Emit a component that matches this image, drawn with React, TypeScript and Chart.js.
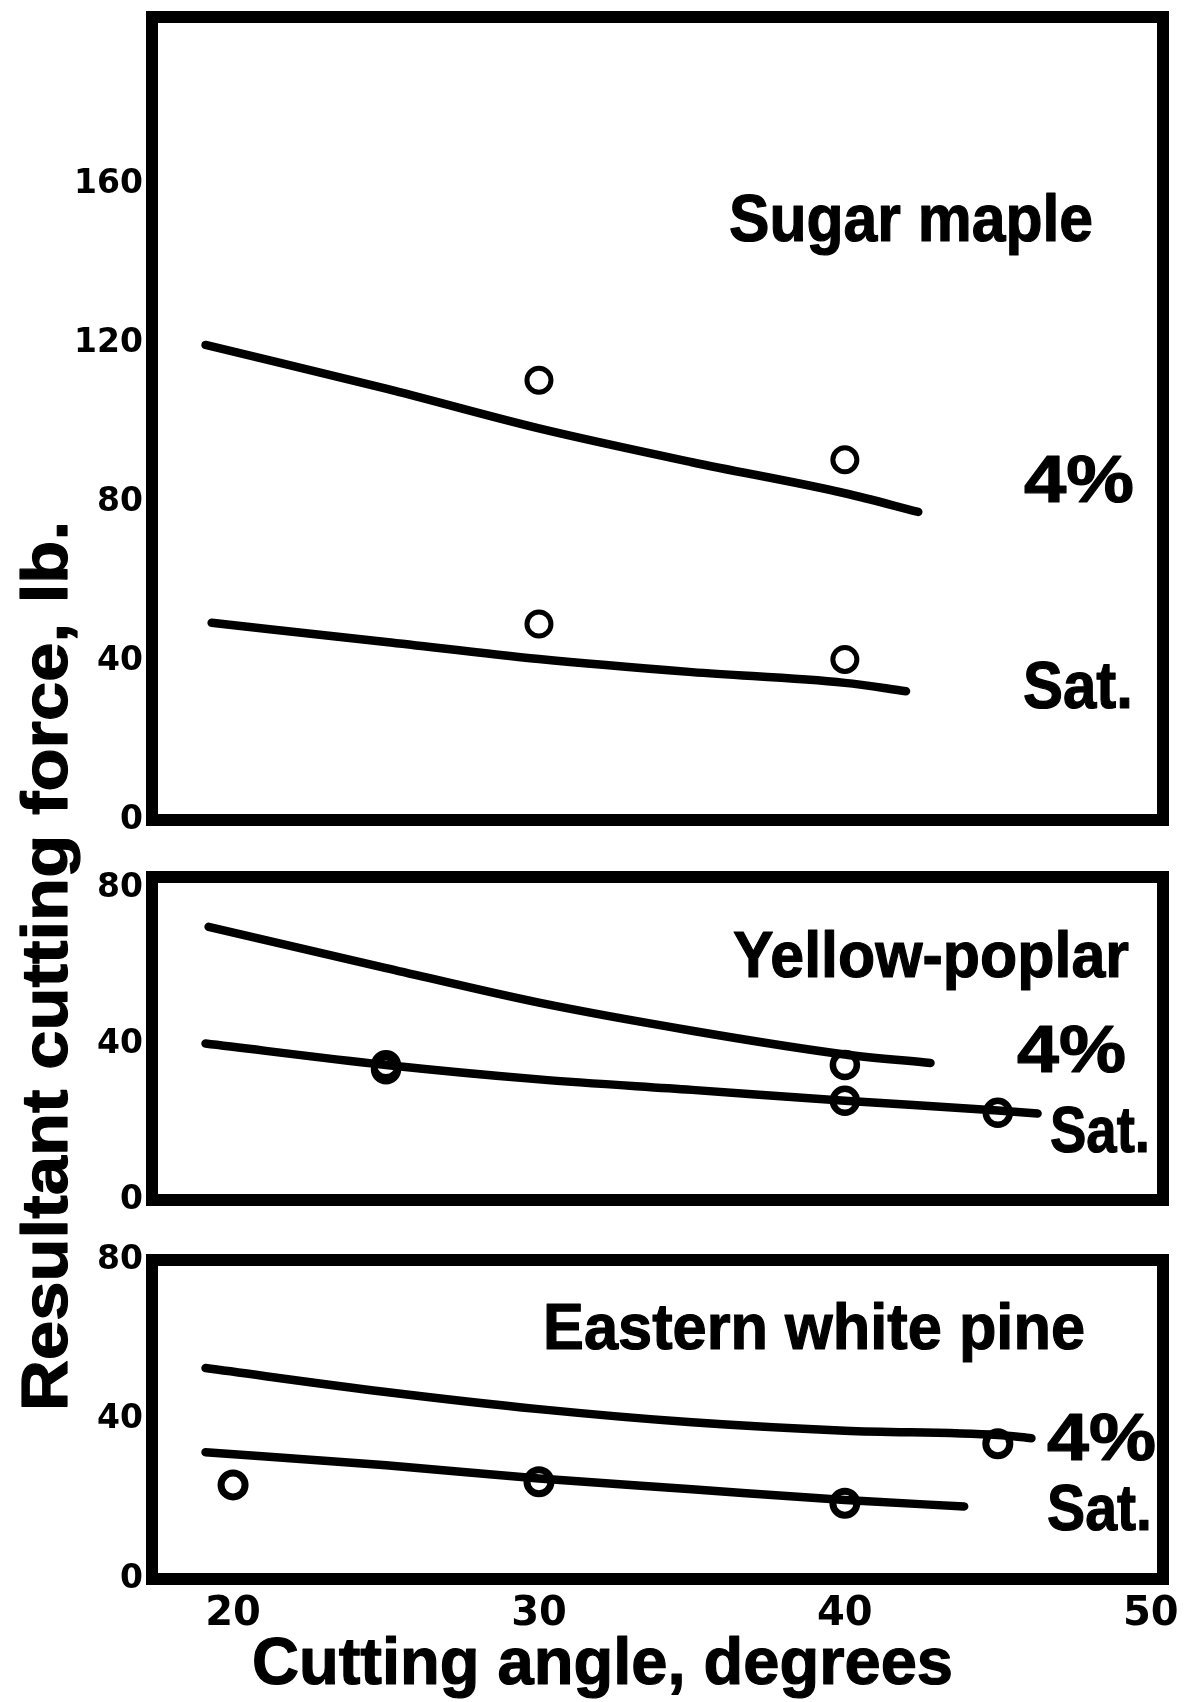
import React, { useEffect, useRef } from 'react';
import { Chart, registerables } from 'chart.js';

Chart.register(...registerables);

const PAGE_W = 1185;
const PAGE_H = 1702;

// ---- shared x axis (cutting angle, degrees) ----
const angleTicks = [20, 30, 40, 50];
const angleMin = 17.35;
const angleMax = 50.4;

// ---- Sugar maple ----
const mapleForceTicks = [0, 40, 80, 120, 160];
const maple4CurveX = [19.1, 25, 30, 35, 40, 42.4];
const maple4CurveY = [119.5, 108.5, 98.5, 90, 82.2, 77.5];
const maple4PointX = [30, 40];
const maple4PointY = [110.6, 90.6];
const mapleSatCurveX = [19.3, 25, 30, 35, 40, 42];
const mapleSatCurveY = [49.6, 44.8, 40.5, 37.2, 34.5, 32.4];
const mapleSatPointX = [30, 40];
const mapleSatPointY = [49.3, 40.4];

// ---- Yellow-poplar ----
const poplarForceTicks = [0, 40, 80];
const poplar4CurveX = [19.2, 25, 30, 35, 40, 42.8];
const poplar4CurveY = [70.2, 59.6, 50.7, 43.5, 37.4, 35.2];
const poplar4PointX = [40];
const poplar4PointY = [34.7];
const poplarSatCurveX = [19.1, 25, 30, 35, 40, 45, 46.3];
const poplarSatCurveY = [40.2, 34.7, 31.0, 28.3, 25.5, 23.0, 22.2];
const poplarSatPointX = [25, 25, 40, 45];
const poplarSatPointY = [34.6, 33.6, 25.5, 22.4];

// ---- Eastern white pine ----
const pineForceTicks = [0, 40, 80];
const pine4CurveX = [19.1, 25, 30, 35, 40, 45, 46.1];
const pine4CurveY = [52.9, 46.9, 42.6, 39.3, 37.2, 36.1, 35.3];
const pine4PointX = [45];
const pine4PointY = [33.9];
const pineSatCurveX = [19.1, 25, 30, 35, 40, 43.9];
const pineSatCurveY = [31.8, 28.5, 25.2, 22.5, 19.8, 18.2];
const pineSatPointX = [20, 30, 40];
const pineSatPointY = [23.6, 24.4, 19.0];

// ---- texts ----
const speciesNames = ['Sugar maple', 'Yellow-poplar', 'Eastern white pine'];
const moistureNames = ['4%', 'Sat.'];
const yTitle = 'Resultant cutting force, lb.';
const xTitle = 'Cutting angle, degrees';

const zip = (xs: number[], ys: number[]) => xs.map((x, i) => ({ x, y: ys[i] }));

type Note = { text: string; x: number; y: number; w: number; cap: number; rotate?: number };

const WORD_FONT = '"Liberation Sans", Arial, sans-serif';
const NUM_FONT = '"DejaVu Sans", sans-serif';

const notesPlugin = {
  id: 'notes',
  afterDraw(chart: any, _args: any, opts: any) {
    const ctx = chart.ctx as CanvasRenderingContext2D;
    for (const n of (opts.items || []) as Note[]) {
      ctx.save();
      const size = n.cap / 0.716;
      ctx.font = `bold ${size}px ${WORD_FONT}`;
      const m = ctx.measureText(n.text).width;
      ctx.translate(n.x, n.y);
      if (n.rotate) ctx.rotate(n.rotate);
      ctx.scale(n.w / m, 1);
      ctx.fillStyle = '#000';
      ctx.strokeStyle = '#000';
      ctx.lineWidth = 1.2;
      ctx.lineJoin = 'round';
      ctx.textAlign = 'left';
      ctx.textBaseline = 'alphabetic';
      ctx.fillText(n.text, 0, 0);
      ctx.strokeText(n.text, 0, 0);
      ctx.restore();
    }
  },
};

const framePlugin = {
  id: 'frame',
  afterDraw(chart: any, _args: any, opts: any) {
    const { ctx, chartArea } = chart;
    ctx.save();
    ctx.strokeStyle = '#000';
    ctx.lineWidth = opts.width || 11;
    ctx.lineJoin = 'miter';
    ctx.strokeRect(chartArea.left, chartArea.top, chartArea.right - chartArea.left, chartArea.bottom - chartArea.top);
    ctx.restore();
  },
};

type PanelCfg = {
  top: number;
  bottom: number;
  right: number;
  yMax: number;
  yTicks: number[];
  showX: boolean;
  circleWidth: number;
  c4: { x: number; y: number }[];
  cSat: { x: number; y: number }[];
  p4: { x: number; y: number }[];
  pSat: { x: number; y: number }[];
  notes: Note[];
};

const panels: PanelCfg[] = [
  {
    top: 9,
    bottom: 820,
    right: 1163,
    yMax: 202,
    yTicks: mapleForceTicks,
    showX: false,
    circleWidth: 5,
    c4: zip(maple4CurveX, maple4CurveY),
    cSat: zip(mapleSatCurveX, mapleSatCurveY),
    p4: zip(maple4PointX, maple4PointY),
    pSat: zip(mapleSatPointX, mapleSatPointY),
    notes: [
      { text: speciesNames[0], x: 729, y: 241, w: 364, cap: 48 },
      { text: moistureNames[0], x: 1024, y: 502, w: 110, cap: 48 },
      { text: moistureNames[1], x: 1023, y: 708, w: 110, cap: 48 },
    ],
  },
  {
    top: 877,
    bottom: 1200,
    right: 1163,
    yMax: 83,
    yTicks: poplarForceTicks,
    showX: false,
    circleWidth: 6.5,
    c4: zip(poplar4CurveX, poplar4CurveY),
    cSat: zip(poplarSatCurveX, poplarSatCurveY),
    p4: zip(poplar4PointX, poplar4PointY),
    pSat: zip(poplarSatPointX, poplarSatPointY),
    notes: [
      { text: speciesNames[1], x: 733, y: 977, w: 396, cap: 47 },
      { text: moistureNames[0], x: 1017, y: 1072, w: 109, cap: 48 },
      { text: moistureNames[1], x: 1050, y: 1152, w: 100, cap: 47 },
    ],
  },
  {
    top: 1260,
    bottom: 1579,
    right: 1163,
    yMax: 80,
    yTicks: pineForceTicks,
    showX: true,
    circleWidth: 7,
    c4: zip(pine4CurveX, pine4CurveY),
    cSat: zip(pineSatCurveX, pineSatCurveY),
    p4: zip(pine4PointX, pine4PointY),
    pSat: zip(pineSatPointX, pineSatPointY),
    notes: [
      { text: speciesNames[2], x: 543, y: 1349, w: 542, cap: 47 },
      { text: moistureNames[0], x: 1047, y: 1460, w: 109, cap: 48 },
      { text: moistureNames[1], x: 1047, y: 1530, w: 105, cap: 47 },
      { text: xTitle, x: 252, y: 1684, w: 701, cap: 48 },
      { text: yTitle, x: 67, y: 1411, w: 890, cap: 47, rotate: -Math.PI / 2 },
    ],
  },
];

function Panel({ cfg }: { cfg: PanelCfg }) {
  const ref = useRef<HTMLCanvasElement | null>(null);
  useEffect(() => {
    if (!ref.current) return;
    const lineStyle = {
      showLine: true,
      borderColor: '#000',
      borderWidth: 8.5,
      borderCapStyle: 'round' as const,
      borderJoinStyle: 'round' as const,
      pointRadius: 0,
      cubicInterpolationMode: 'monotone' as const,
      fill: false,
    };
    const pointStyle = {
      showLine: false,
      pointStyle: 'circle' as const,
      pointRadius: 12,
      pointBorderWidth: cfg.circleWidth,
      pointBorderColor: '#000',
      pointBackgroundColor: 'rgba(0,0,0,0)',
      borderColor: '#000',
      backgroundColor: 'rgba(0,0,0,0)',
    };
    const chart = new Chart(ref.current, {
      type: 'scatter',
      data: {
        datasets: [
          { label: '4% curve', data: cfg.c4, ...lineStyle },
          { label: 'Sat. curve', data: cfg.cSat, ...lineStyle },
          { label: '4% tests', data: cfg.p4, ...pointStyle },
          { label: 'Sat. tests', data: cfg.pSat, ...pointStyle },
        ],
      },
      options: {
        animation: false,
        responsive: false,
        events: [],
        layout: {
          padding: {
            left: 0,
            top: cfg.top,
            right: PAGE_W - cfg.right,
            bottom: cfg.showX ? 0 : PAGE_H - cfg.bottom,
          },
        },
        plugins: {
          legend: { display: false },
          tooltip: { enabled: false },
          notes: { items: cfg.notes },
          frame: { width: 12 },
        } as any,
        scales: {
          x: {
            type: 'linear',
            display: cfg.showX,
            min: angleMin,
            max: angleMax,
            position: 'bottom',
            grid: { display: false, drawTicks: false },
            border: { display: false },
            ticks: {
              color: '#000',
              autoSkip: false,
              maxRotation: 0,
              padding: 12,
              font: { family: NUM_FONT, weight: 'bold', size: 40 },
            },
            afterBuildTicks: (s: any) => {
              s.ticks = angleTicks.map((v) => ({ value: v }));
            },
            afterFit: (s: any) => {
              if (cfg.showX) s.height = PAGE_H - cfg.bottom;
              s.paddingLeft = 0;
              s.paddingRight = 0;
              s.paddingTop = 0;
              s.paddingBottom = 0;
            },
          },
          y: {
            type: 'linear',
            min: 0,
            max: cfg.yMax,
            position: 'left',
            grid: { display: false, drawTicks: false },
            border: { display: false },
            ticks: {
              color: '#000',
              autoSkip: false,
              padding: 9,
              font: { family: NUM_FONT, weight: 'bold', size: 33 },
            },
            afterBuildTicks: (s: any) => {
              s.ticks = cfg.yTicks.map((v) => ({ value: v }));
            },
            afterFit: (s: any) => {
              s.width = 152;
              s.paddingLeft = 0;
              s.paddingRight = 0;
              s.paddingTop = 0;
              s.paddingBottom = 0;
            },
          },
        } as any,
      },
      plugins: [framePlugin, notesPlugin],
    } as any);
    return () => chart.destroy();
  }, [cfg]);
  return (
    <canvas
      ref={ref}
      width={PAGE_W}
      height={PAGE_H}
      style={{ position: 'absolute', left: 0, top: 0, width: PAGE_W, height: PAGE_H }}
    />
  );
}

export default function App() {
  return (
    <div style={{ position: 'absolute', left: 0, top: 0, width: PAGE_W, height: PAGE_H, background: '#fff', overflow: 'hidden' }}>
      {panels.map((p, i) => (
        <Panel key={i} cfg={p} />
      ))}
    </div>
  );
}
